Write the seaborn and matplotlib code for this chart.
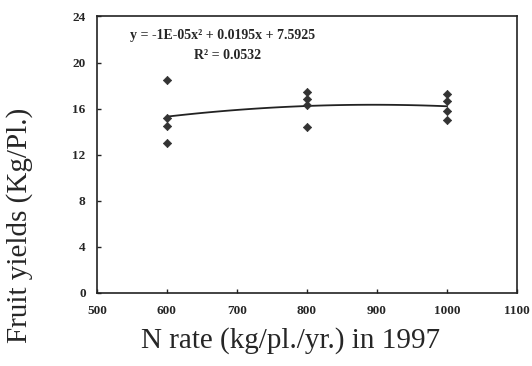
import matplotlib
matplotlib.use('Agg')
import matplotlib.pyplot as plt
import seaborn as sns
import pandas as pd

sns.set_theme(style='ticks')
plt.rcParams['font.family'] = ['Liberation Serif', 'DejaVu Serif']

# Data
n_rate = [600, 600, 600, 600, 800, 800, 800, 800, 1000, 1000, 1000, 1000]
fruit_yield = [18.5, 15.2, 14.5, 13.0, 17.4, 16.8, 16.3, 14.4, 17.3, 16.7, 15.8, 15.0]
x_ticks = [500, 600, 700, 800, 900, 1000, 1100]
y_ticks = [0, 4, 8, 12, 16, 20, 24]
equation = 'y = -1E-05x² + 0.0195x + 7.5925'
r_squared = 'R² = 0.0532'

df = pd.DataFrame({'n_rate': n_rate, 'fruit_yield': fruit_yield})

fig, ax = plt.subplots(figsize=(5.32, 3.66), dpi=100)
fig.subplots_adjust(left=0.182, right=0.972, top=0.955, bottom=0.2)

sns.scatterplot(data=df, x='n_rate', y='fruit_yield', ax=ax,
                marker='D', s=18, color='#333333', edgecolor='#333333',
                linewidth=0.5, zorder=3)
sns.regplot(data=df, x='n_rate', y='fruit_yield', ax=ax, order=2,
            ci=None, scatter=False, truncate=True,
            line_kws={'color': '#222222', 'linewidth': 1.3})

ax.set_xlim(500, 1100)
ax.set_ylim(0, 24)
ax.set_xticks(x_ticks)
ax.set_yticks(y_ticks)
ax.set_xticklabels([str(t) for t in x_ticks], fontweight='bold', fontsize=9.5)
ax.set_yticklabels([str(t) for t in y_ticks], fontweight='bold', fontsize=9.5)
ax.tick_params(axis='both', direction='in', length=3, width=1, color='#222222')
ax.tick_params(axis='x', pad=9)
ax.tick_params(axis='y', pad=8)

for side in ['top', 'right', 'left', 'bottom']:
    ax.spines[side].set_visible(True)
    ax.spines[side].set_color('#222222')
    ax.spines[side].set_linewidth(1.2)

ax.set_xlabel('N rate (kg/pl./yr.) in 1997', fontsize=21)
ax.set_ylabel('Fruit yields (Kg/Pl.)', fontsize=21)
ax.xaxis.set_label_coords(0.462, -0.125)
ax.yaxis.set_label_coords(-0.152, 0.245)

ax.text(0.30, 0.93, equation, transform=ax.transAxes, ha='center',
        va='center', fontsize=10, fontweight='bold')
ax.text(0.31, 0.86, r_squared, transform=ax.transAxes, ha='center',
        va='center', fontsize=10, fontweight='bold')

plt.savefig('out.png', dpi=100)
